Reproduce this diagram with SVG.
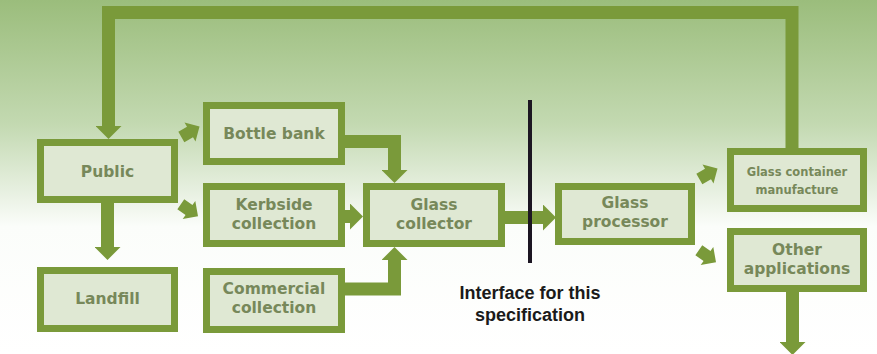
<svg xmlns="http://www.w3.org/2000/svg" width="877" height="354" viewBox="0 0 877 354">
  <defs>
    <linearGradient id="bg" x1="0" y1="0" x2="0" y2="1">
      <stop offset="0" stop-color="#9bbd7c"/>
      <stop offset="0.35" stop-color="#c3d9b1"/>
      <stop offset="0.55" stop-color="#e9f1e3"/>
      <stop offset="0.64" stop-color="#fbfdfa"/>
      <stop offset="1" stop-color="#ffffff"/>
    </linearGradient>
    <marker id="head" markerUnits="userSpaceOnUse" viewBox="0 0 13 26" refX="0" refY="13" markerWidth="13" markerHeight="26" orient="auto">
      <path d="M0,0 L13,13 L0,26 Z" fill="#7a9a3a"/>
    </marker>
    <path id="stub" d="M-10,-6 L0,-6 L0,-11 L11,0 L0,11 L0,6 L-10,6 Z" fill="#7a9a3a"/>
    <style>
      .box rect { fill: #dfe8d3; stroke: #7a9a3a; stroke-width: 7; }
      .box text { font-family: "DejaVu Sans", "Open Sans", sans-serif; font-weight: bold; font-size: 15.5px; fill: #77885a; text-anchor: middle; }
      .box text.sm { font-size: 11.5px; }
      .conn path { fill: none; stroke: #7a9a3a; stroke-width: 13; stroke-linejoin: miter; }
      .label { font-family: "Liberation Sans", Arial, sans-serif; font-weight: bold; font-size: 18px; fill: #1a1a1a; text-anchor: middle; }
    </style>
  </defs>

  <rect x="0" y="0" width="877" height="354" fill="url(#bg)"/>

  <g id="connectors" class="conn">
    <path d="M792,148 V12.5 H108.5 V126" stroke-width="12" marker-end="url(#head)"/>
    <path d="M107.5,203 V247" marker-end="url(#head)"/>
    <path d="M345,141.5 H394.5 V170" marker-end="url(#head)"/>
    <path d="M345,216.5 H350" marker-end="url(#head)"/>
    <path d="M345,289 H394.5 V260" marker-end="url(#head)"/>
    <path d="M505,217.5 H543" marker-end="url(#head)"/>
    <path d="M792.5,292 V342" stroke-width="11" marker-end="url(#head)"/>
    <use href="#stub" transform="translate(190,132) rotate(-30)"/>
    <use href="#stub" transform="translate(189,210) rotate(35)"/>
    <use href="#stub" transform="translate(708,174) rotate(-30)"/>
    <use href="#stub" transform="translate(707,256) rotate(35)"/>
  </g>

  <g id="interface">
    <rect x="528" y="100" width="4" height="163" fill="#1c1622"/>
    <text class="label" x="530" y="299">Interface for this</text>
    <text class="label" x="530" y="321">specification</text>
  </g>

  <g id="public" class="box">
    <rect x="40.5" y="142.5" width="134" height="57"/>
    <text x="107.5" y="177">Public</text>
  </g>
  <g id="landfill" class="box">
    <rect x="40.5" y="270.5" width="134" height="58"/>
    <text x="107.5" y="304">Landfill</text>
  </g>
  <g id="bottle-bank" class="box">
    <rect x="206.5" y="105.5" width="135" height="56"/>
    <text x="274" y="139">Bottle bank</text>
  </g>
  <g id="kerbside" class="box">
    <rect x="206.5" y="186.5" width="135" height="57"/>
    <text x="274" y="210">Kerbside</text>
    <text x="274" y="229">collection</text>
  </g>
  <g id="commercial" class="box">
    <rect x="206.5" y="271.5" width="135" height="58"/>
    <text x="274" y="294">Commercial</text>
    <text x="274" y="313">collection</text>
  </g>
  <g id="glass-collector" class="box">
    <rect x="366.5" y="186.5" width="135" height="57"/>
    <text x="434" y="210">Glass</text>
    <text x="434" y="229">collector</text>
  </g>
  <g id="glass-processor" class="box">
    <rect x="558.5" y="186.5" width="133" height="55"/>
    <text x="625" y="208">Glass</text>
    <text x="625" y="227">processor</text>
  </g>
  <g id="glass-container-manufacture" class="box">
    <rect x="730.5" y="151.5" width="133" height="57"/>
    <text class="sm" x="797" y="176">Glass container</text>
    <text class="sm" x="797" y="194">manufacture</text>
  </g>
  <g id="other-applications" class="box">
    <rect x="730.5" y="231.5" width="133" height="57"/>
    <text x="797" y="255">Other</text>
    <text x="797" y="274">applications</text>
  </g>
</svg>
